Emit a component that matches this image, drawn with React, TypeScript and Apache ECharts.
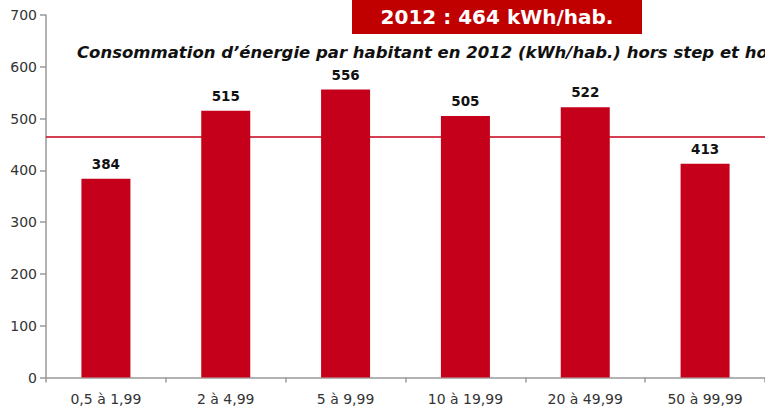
import React, { useEffect, useRef } from "react";
import * as echarts from "echarts";

const categories = ["0,5 à 1,99", "2 à 4,99", "5 à 9,99", "10 à 19,99", "20 à 49,99", "50 à 99,99"];
const values = [384, 515, 556, 505, 522, 413];
const averageValue = 464;
const boxText = "2012 : 464 kWh/hab.";
const titleText = "Consommation d’énergie par habitant en 2012 (kWh/hab.) hors step et hors";

export default function App() {
  const ref = useRef<HTMLDivElement>(null);
  useEffect(() => {
    if (!ref.current) return;
    const chart = echarts.init(ref.current, null, { renderer: "svg" });
    const font = "DejaVu Sans, Verdana, sans-serif";
    chart.setOption({
      animation: false,
      backgroundColor: "#ffffff",
      grid: { left: 46, right: -4, top: 15, bottom: 29.5, containLabel: false },
      xAxis: {
        type: "category",
        data: categories,
        axisLine: { lineStyle: { color: "#9a9a9a", width: 1.5 } },
        axisTick: { show: true, length: 5, lineStyle: { color: "#9a9a9a", width: 1.5 } },
        axisLabel: { color: "#333333", fontSize: 14, fontFamily: font, margin: 14 },
      },
      yAxis: {
        type: "value",
        min: 0,
        max: 700,
        interval: 100,
        axisLine: { show: true, lineStyle: { color: "#9a9a9a", width: 1.5 } },
        axisTick: { show: true, length: 6, lineStyle: { color: "#9a9a9a", width: 1.5 } },
        axisLabel: { color: "#333333", fontSize: 14, fontFamily: font, margin: 9 },
        splitLine: { show: false },
      },
      series: [
        {
          type: "bar",
          data: values,
          barWidth: 49,
          itemStyle: { color: "#c4001a" },
          label: {
            show: true,
            position: "top",
            distance: 8,
            color: "#111111",
            fontWeight: "bold",
            fontSize: 13.5,
            fontFamily: font,
          },
          markLine: {
            silent: true,
            symbol: ["none", "none"],
            label: { show: false },
            lineStyle: { color: "#c4001a", width: 1.5, type: "solid", opacity: 1 },
            data: [{ yAxis: averageValue, lineStyle: { color: "#c4001a", width: 1.5, type: "solid" } }],
          },
        },
      ],
      graphic: [
        {
          type: "rect",
          left: 352,
          top: 0,
          shape: { width: 290, height: 34 },
          style: { fill: "#c00000" },
          z: 10,
        },
        {
          type: "text",
          x: 497,
          y: 17,
          style: {
            text: boxText,
            fill: "#ffffff",
            font: "bold 20px DejaVu Sans, Verdana, sans-serif",
            textAlign: "center",
            textVerticalAlign: "middle",
          },
          z: 11,
        },
        {
          type: "text",
          x: 77,
          y: 52,
          style: {
            text: titleText,
            fill: "#111111",
            font: "italic bold 16.5px DejaVu Sans, Verdana, sans-serif",
            textAlign: "left",
            textVerticalAlign: "middle",
          },
          z: 11,
        },
      ],
    });
    return () => chart.dispose();
  }, []);
  return <div ref={ref} style={{ width: 765, height: 407, position: "absolute", left: 0, top: 0 }} />;
}
